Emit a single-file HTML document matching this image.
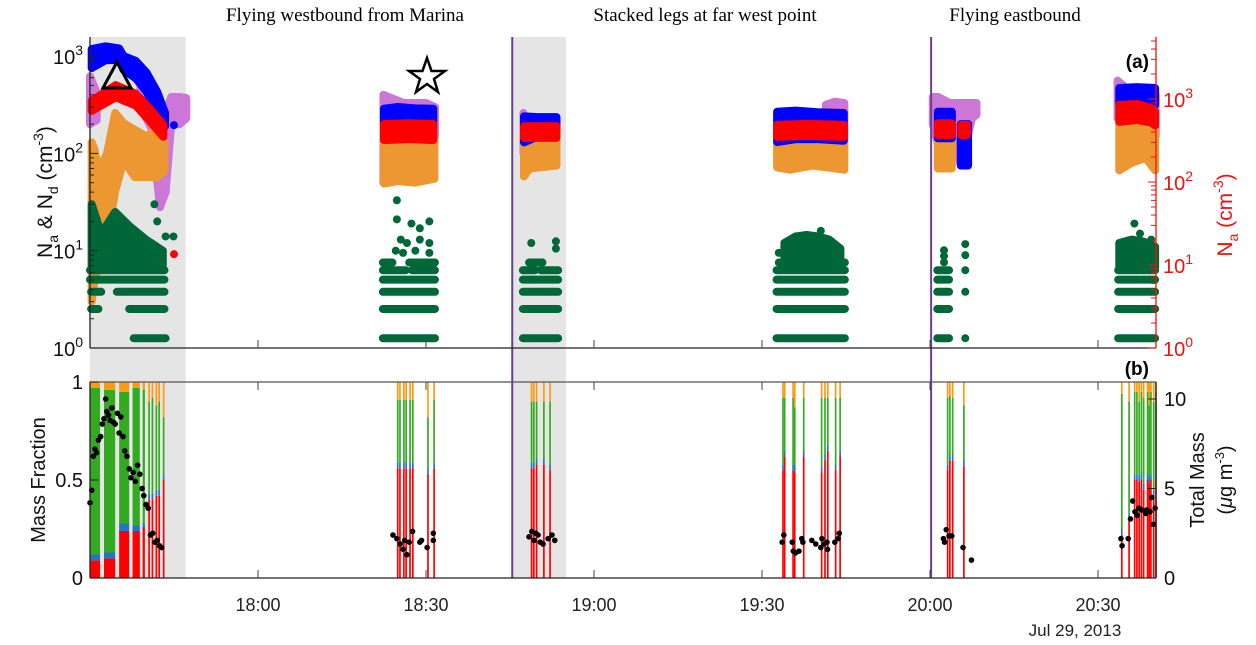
<!DOCTYPE html>
<html><head><meta charset="utf-8"><style>
body{margin:0;background:#fff;}
svg text{font-family:"Liberation Sans",sans-serif;}
.serif{font-family:"Liberation Serif",serif;}
</style></head><body>
<svg id="chart" xmlns="http://www.w3.org/2000/svg" width="1256" height="640" viewBox="0 0 1256 640">
<g id="bg"></g>
<g id="panelA"></g>
<g id="panelB"></g>
<g id="axes"></g>
<text class="serif" x="345" y="21" font-size="19" text-anchor="middle" font-family="Liberation Serif, serif">Flying  westbound  from  Marina</text>
<text class="serif" x="705" y="21" font-size="19" text-anchor="middle" font-family="Liberation Serif, serif">Stacked legs at far west point</text>
<text class="serif" x="1015" y="21" font-size="19" text-anchor="middle" font-family="Liberation Serif, serif">Flying  eastbound</text>
<text x="1149" y="68" font-size="19" font-weight="bold" text-anchor="end" font-family="Liberation Serif, serif">(a)</text>
<text x="1149" y="375" font-size="19" font-weight="bold" text-anchor="end" font-family="Liberation Serif, serif">(b)</text>
<text transform="translate(52,192) rotate(-90)" font-size="21" text-anchor="middle" fill="#111">N<tspan font-size="14" dy="6">a</tspan><tspan dy="-6"> &amp; N</tspan><tspan font-size="14" dy="6">d</tspan><tspan dy="-6"> (cm</tspan><tspan font-size="14" dy="-9">-3</tspan><tspan dy="9">)</tspan></text>
<text transform="translate(1232,215) rotate(-90)" font-size="21" text-anchor="middle" fill="#ee1111">N<tspan font-size="14" dy="6">a</tspan><tspan dy="-6"> (cm</tspan><tspan font-size="14" dy="-9">-3</tspan><tspan dy="9">)</tspan></text>
<text transform="translate(45,480) rotate(-90)" font-size="20" text-anchor="middle" fill="#111">Mass Fraction</text>
<text transform="translate(1204,480) rotate(-90)" font-size="20" text-anchor="middle" fill="#111">Total Mass</text>
<text transform="translate(1232,480) rotate(-90)" font-size="20" text-anchor="middle" fill="#111">(<tspan font-style="italic">μ</tspan>g m<tspan font-size="13" dy="-8">-3</tspan><tspan dy="8">)</tspan></text>
<text x="1075" y="636" font-size="17" text-anchor="middle" fill="#222">Jul 29, 2013</text>
<polygon points="117,62 103,88 131,88" fill="none" stroke="#000" stroke-width="3"/>
<polygon points="427,58 431.5,71 445,71 434,79 438,92 427,84 416,92 420,79 409,71 422.5,71" fill="#fff" stroke="#000" stroke-width="2.5"/>
</svg>
<script>
// ===== data (time in minutes after 17:30) =====
const xTickMinutes=[30,60,90,120,150,180];
const xTickLabels=["18:00","18:30","19:00","19:30","20:00","20:30"];
const shadeStart=[0,75.4];
const shadeEnd=[17.1,85];
const legMarkers=[75.4,150.2];
const blueBands=[
 [[0.3,755,1180],[2.8,910,1260],[5.2,910,1200],[6,720,1000],[8.2,590,890],[10.1,430,675],[12,260,430],[13.4,190,260]],
 [[52.5,182,288],[55,185,300],[58,182,290],[61.3,182,288]],
 [[77.5,130,240],[80,150,236],[83.3,150,236]],
 [[122.7,131,268],[126,140,275],[130,140,265],[134.6,135,260]],
 [[151.4,143,268],[153.9,143,268]],
 [[155.5,75,200],[156.8,75,200]],
 [[183.8,316,470],[187,316,480],[190.2,316,470]]
];
const blueDots=[[15,195]];
const redBands=[
 [[0.3,720,950],[4.6,1050,1470],[8.2,830,1150],[10.7,540,760],[13.1,350,490]],
 [[52.5,320,500],[57,330,510],[61.3,320,500]],
 [[77.5,340,470],[83.3,340,470]],
 [[122.7,350,490],[128,360,500],[134.6,350,490]],
 [[151.4,370,510],[153.9,370,510]],
 [[155.6,370,490],[156.6,370,490]],
 [[183.8,530,850],[187,560,870],[189.5,520,780],[190.2,480,700]]
];
const redDots=[[15,13.5]];
const violetBands=[
 [[0,200,620],[1.2,220,420]],
 [[9,300,560],[11,180,500],[12.5,28,320],[13.5,40,260],[14.5,200,380],[16,200,380],[17.2,230,370]],
 [[52.4,50,400],[56,60,330],[60,70,330],[61.6,150,300]],
 [[77.4,100,260],[78,110,200]],
 [[131.4,115,316],[133,130,340],[134.7,140,330]],
 [[150.5,200,380],[151.5,120,380],[153.5,230,330],[155.5,75,330],[157.5,230,330],[158.3,250,330]],
 [[183.5,230,560],[186,150,420],[189,100,420],[190.3,150,400]]
];
const orangeBands=[
 [[0.3,3,130],[0.8,5,110],[1.5,7,66],[3,13,98],[4.5,41,260],[6,85,205],[8,57,175],[10,57,150],[12,57,175],[13.3,66,128]],
 [[52.5,49,137],[55,52,140],[58,50,150],[61.5,55,137]],
 [[77.5,58,137],[78.5,70,137],[83.3,75,137]],
 [[122.7,72,128],[125,68,144],[129,75,144],[134.7,68,140]],
 [[151.4,70,147],[153.9,70,147]],
 [[155.5,76,175],[156.6,76,175]],
 [[183.8,67,205],[186,80,190],[188.5,90,215],[190.2,67,180]]
];
const greenBands=[
 [[0.3,6.5,30],[2,7,15],[4.5,7,25],[7,7,18],[10,7,13],[13,7,10]],
 [[124,8,12],[126,8,14],[128,8,14.5],[130,8,14],[132,8,13],[134,8,10.5]],
 [[183.8,6.8,12],[186,6.8,13],[188,6.8,12.5],[190.2,6.8,11]]
];
const greenLevelStep=1.26;
const greenRuns=[
 [7.8,13.5,1],[0.2,1.5,2],[7,13.3,2],[0.2,2,3],[4.8,13.3,3],[0,13.3,4],[0,13.3,5],
 [52.3,61.6,1],[52.3,61.6,2],[52.3,61.6,3],[52.3,61.6,4],[52.3,56.4,5],[57.5,61.6,5],[52.3,54,6],[57,61.6,6],
 [77.3,83.6,1],[77.3,83.6,2],[77.3,83.6,3],[77.3,83.6,4],[77.3,79.5,5],[80.5,83.6,5],[78.4,80.8,6],
 [122.6,134.8,1],[122.6,134.8,2],[122.6,134.8,3],[122.6,134.8,4],[122.6,134.8,5],[123,134.8,6],
 [151.3,153.4,1],[151.3,153.4,2],[151.3,153.4,3],[151.3,153.4,4],[151.3,153.4,5],
 [183.6,190.2,1],[183.6,190.2,2],[183.6,190.2,3],[183.6,190.2,4],[183.6,190.2,5]
];
const greenDots=[[11.5,30],[13.5,14],[14.9,14],[12,20],
 [54.8,33],[54.8,21],[57.4,19],[58.9,17],[60.6,20],[55.5,13],[56.6,12],[58.9,13],[60.6,12],[54.6,10],[55.9,9.5],[58.1,10],[60.6,9.5],
 [78.8,12],[83.2,12.5],[83.2,10.5],
 [127.8,14.5],[130.5,16],[123,9.5],
 [152.5,7.6],[152.5,8.8],[152.5,10.1],[156.3,1.26],[156.3,3.78],[156.3,6.3],[156.3,9],[156.3,11.7],
 [186.5,19],[187.5,15],[189.5,13]];
// mass fraction bars
const barT=[0,2.5,5.2,7.6,9.4,10.4,11.0,11.7,12.2,13.0,
 54.8,55.2,55.9,56.3,57.0,57.5,60.2,61.3,
 78.7,79.1,79.6,80.9,82.0,
 123.6,123.9,125.4,125.7,127.3,130.5,131.1,131.6,133.0,133.8,
 153.0,153.4,153.9,155.9,
 184.1,185.4,186.4,186.8,187.2,187.6,188.0,188.7,189.0,189.3,189.8,190.2];
const barDur=[1.8,2,1.8,1.3,0.4,0.3,0.3,0.3,0.3,0.3,
 0.3,0.3,0.3,0.3,0.3,0.3,0.3,0.3, 0.3,0.3,0.3,0.3,0.3,
 0.3,0.3,0.3,0.3,0.3,0.3,0.3,0.3,0.3,0.3, 0.3,0.3,0.3,0.3,
 0.3,0.3,0.3,0.3,0.3,0.3,0.3,0.3,0.3,0.3,0.3,0.3];
const barRed=[.09,.1,.24,.24,.26,.40,.40,.42,.42,.50,
 .56,.56,.56,.56,.56,.56,.53,.56, .56,.56,.58,.58,.55,
 .55,.62,.55,.54,.62,.54,.60,.65,.55,.62, .55,.60,.60,.57,
 .22,.30,.50,.50,.49,.50,.45,.50,.48,.50,.42,.50];
const barBlue=[.03,.03,.04,.03,.02,.03,.03,.03,.03,.03,
 .03,.03,.03,.03,.03,.03,.03,.03, .03,.03,.03,.03,.03,
 .03,.03,.03,.03,.03,.03,.03,.03,.03,.03, .03,.03,.03,.03,
 .03,.03,.03,.03,.03,.03,.03,.03,.03,.03,.03,.03];
const barGreen=[.85,.83,.67,.70,.68,.47,.49,.43,.45,.29,
 .32,.32,.32,.32,.32,.32,.26,.32, .31,.31,.29,.29,.32,
 .34,.27,.34,.30,.27,.35,.29,.24,.34,.27, .34,.30,.29,.28,
 .69,.57,.42,.42,.38,.42,.44,.42,.37,.42,.45,.42];
const massT=[0,0.3,0.6,0.9,1.2,1.5,1.9,2.2,2.5,2.8,3.0,3.3,3.6,3.9,4.2,4.5,4.9,5.2,5.5,5.9,6.2,6.6,7.0,7.3,7.7,8.1,8.5,8.9,9.3,9.6,10.0,10.4,10.8,11.2,11.6,12.0,12.4,12.8];
const massV=[4.2,4.9,6.8,7.2,7.0,7.7,7.9,8.6,8.9,10.0,9.3,9.1,8.8,9.5,8.7,8.6,9.2,8.1,9.0,7.9,7.1,6.8,6.1,5.6,5.9,5.4,6.3,5.8,5.0,4.6,4.1,3.9,2.4,2.5,2.0,2.1,1.8,1.7];
const massT2=[54.1,54.8,55.4,55.9,56.2,56.6,57.0,57.6,58.9,59.2,60.2,61.3,61.3,
 78.4,78.9,79.3,79.6,80.0,80.4,80.9,81.8,82.5,83.0,
 123.6,123.9,125.4,125.6,126,126.6,127.1,127.3,128.9,129.6,130.5,130.7,131.1,131.6,131.7,133,133.6,133.8,
 152.4,152.6,152.9,153.4,153.9,155.9,157.4,
 184.1,184.3,185.4,185.8,186.2,186.6,187.0,187.3,187.8,188.5,188.7,189.3,189.6,189.9,190.2];
const massV2=[2.4,2.2,1.9,1.6,2.1,1.3,2.0,2.6,2.0,2.1,1.7,2.5,2.1,
 2.3,2.6,2.1,2.5,2.4,2.0,1.9,2.2,2.4,2.1,
 2.0,2.4,2.0,1.5,1.4,1.5,2.2,2.0,2.1,1.9,1.7,2.2,1.9,2.0,1.6,2.0,2.2,2.5,
 2.2,2.0,2.7,2.35,2.35,1.7,1.0,
 2.2,1.8,2.2,3.3,4.3,3.7,3.5,3.9,3.8,3.6,3.8,3.7,4.5,3.0,3.9];
const leftMajor=[1,10,100,1000];
const rightMajor=[1,10,100,1000];
const fracTicks=[0,0.5,1];
const massTicks=[0,5,10];

// ===== scales =====
const X0=90,PX_PER_MIN=5.6,XEND=1156;
const x=t=>X0+t*PX_PER_MIN;
const yL=v=>348-Math.log10(v)*97.3;
const yR=v=>348-Math.log10(v)*83;
const yF=f=>578-f*196;
const yM=m=>578-m*17.9;
const NS="http://www.w3.org/2000/svg";
function mk(tag,attrs,parent){const e=document.createElementNS(NS,tag);for(const k in attrs)e.setAttribute(k,attrs[k]);parent.appendChild(e);return e;}
const bg=document.getElementById('bg'),pA=document.getElementById('panelA'),pB=document.getElementById('panelB'),ax=document.getElementById('axes');

// shaded regions
shadeStart.forEach((s,i)=>{const r=mk('rect',{x:x(s),y:37,width:x(shadeEnd[i])-x(s),height:541,fill:'#e6e5e6'},bg);

});

function band(data,ys,color,name){
 const pts=data.map(d=>x(d[0])+','+ys(d[2])).concat(data.slice().reverse().map(d=>x(d[0])+','+ys(d[1])));
 const p=mk('polygon',{points:pts.join(' '),fill:color,stroke:color,'stroke-width':8,'stroke-linejoin':'round'},pA);
 
 
}
function dot(t,v,ys,color,r,name,parent){
 const c=mk('circle',{cx:x(t),cy:ys(v),r:r,fill:color},parent||pA);
 
 
}
violetBands.forEach(b=>band(b,yL,'#cc77d8','violet-series-band'));
orangeBands.forEach(b=>band(b,yL,'#ec9732','orange-series-band'));
blueBands.forEach(b=>band(b,yL,'#0000ff','blue-series-band'));
blueDots.forEach(d=>dot(d[0],d[1],yL,'#0000ff',4,'blue-point'));
redBands.forEach(b=>band(b,yR,'#ff0000','red-series-band'));
redDots.forEach(d=>dot(d[0],d[1],yR,'#ff0000',4,'red-point'));
greenBands.forEach(b=>band(b,yL,'#006838','green-series-band'));
greenRuns.forEach(r=>{const y=yL(r[2]*greenLevelStep);
 const l=mk('line',{x1:x(r[0]),x2:x(r[1]),y1:y,y2:y,stroke:'#006838','stroke-width':8,'stroke-linecap':'round'},pA);
 
 });
greenDots.forEach(d=>dot(d[0],d[1],yL,'#006838',4,'green-point'));

// bars
barT.forEach((t,i)=>{
 const w=Math.max(barDur[i]*PX_PER_MIN,1.6),bx=x(t);
 const segs=[[0,barRed[i],'#ff0000'],[barRed[i],barRed[i]+barBlue[i],'#1f77c4'],[barRed[i]+barBlue[i],barRed[i]+barBlue[i]+barGreen[i],'#33aa22'],[barRed[i]+barBlue[i]+barGreen[i],1,'#ff9a10']];
 segs.forEach(s=>{const r=mk('rect',{x:bx,y:yF(s[1]),width:w,height:Math.max(yF(s[0])-yF(s[1]),0),fill:s[2]},pB);
 
 });
});
massT.forEach((t,i)=>dot(t,massV[i],yM,'#000',2.8,'total-mass-point',pB));
massT2.forEach((t,i)=>dot(t,massV2[i],yM,'#000',2.8,'total-mass-point',pB));

// purple leg markers
legMarkers.forEach(t=>{const l=mk('line',{x1:x(t),x2:x(t),y1:37,y2:578,stroke:'#6a3d96','stroke-width':2},ax);

});

// axes lines
function line(x1,y1,x2,y2,c,w,name){const l=mk('line',{x1,y1,x2,y2,stroke:c,'stroke-width':w||1.3},ax);

}
line(X0,37,X0,348,'#222',1.3,'left-axis-top');
line(X0,348,XEND,348,'#222',1.3,'x-axis-top');
line(XEND,37,XEND,348,'#ee1111',1.3,'right-axis-top');
line(X0,382,XEND,382,'#555',1.3,'top-border-bottom-panel');
line(X0,382,X0,578,'#222',1.3,'left-axis-bottom');
line(X0,578,XEND,578,'#222',1.3,'x-axis-bottom');
line(XEND,382,XEND,578,'#222',1.3,'right-axis-bottom');

function txt(s,xp,yp,anchor,size,color,name){const e=mk('text',{x:xp,y:yp,'text-anchor':anchor,'font-size':size,fill:color},ax);e.textContent=s;

return e;}
function pow(v,xp,yp,anchor,color,name){const e=mk('text',{x:xp,y:yp,'text-anchor':anchor,'font-size':20,fill:color},ax);
 
 
 const a=mk('tspan',{},e);a.textContent='10';
 const b=mk('tspan',{'font-size':14,dy:-9},e);b.textContent=String(Math.round(Math.log10(v)));}

xTickMinutes.forEach((t,i)=>{
 line(x(t),348,x(t),340,'#444',1,'x-tick-top');
 line(x(t),382,x(t),390,'#444',1,'x-tick-bottom-panel-top');
 line(x(t),578,x(t),570,'#444',1,'x-tick-bottom');
 txt(xTickLabels[i],x(t),611,'middle',18,'#222','x-tick-label');
});
leftMajor.forEach(v=>{
 line(X0,yL(v),X0+8,yL(v),'#222',1,'left-major-tick');
 pow(v,83,yL(v)+8,'end','#111','left-tick-label');
 if(v<1000)for(let m=2;m<10;m++)line(X0,yL(v*m),X0+4,yL(v*m),'#222',1,'left-minor-tick');
});
rightMajor.forEach(v=>{
 line(XEND,yR(v),XEND-8,yR(v),'#ee1111',1,'right-major-tick');
 pow(v,1163,yR(v)+8,'start','#ee1111','right-tick-label');
 for(let m=2;m<10;m++){if(Math.log10(v*m)<3.74)line(XEND,yR(v*m),XEND-5,yR(v*m),'#ee1111',1,'right-minor-tick');}
});
fracTicks.forEach(f=>{line(X0,yF(f),X0+8,yF(f),'#222',1,'fraction-tick');
 txt(String(f),83,yF(f)+7,'end',20,'#111','fraction-tick-label');});
massTicks.forEach(m=>{line(XEND,yM(m),XEND-8,yM(m),'#222',1,'mass-tick');
 txt(String(m),1164,yM(m)+7,'start',20,'#111','mass-tick-label');});
</script>
</body></html>
